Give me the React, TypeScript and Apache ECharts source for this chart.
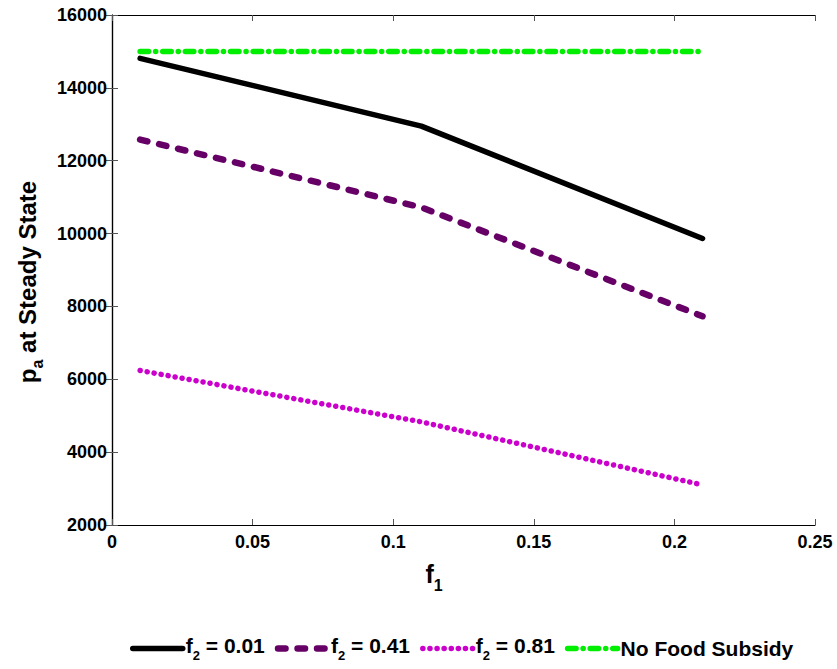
import React, { useEffect, useRef } from "react";
import * as echarts from "echarts";

const f1Values = [0.01, 0.11, 0.21];
const seriesF2_001 = [14810, 12950, 9865];
const seriesF2_041 = [12580, 10720, 7730];
const seriesF2_081 = [6240, 4830, 3100];
const seriesNoSubsidy = [15000, 15000, 15000];

const seriesNames = ["f2 = 0.01", "f2 = 0.41", "f2 = 0.81", "No Food Subsidy"];
const xTicks = { min: 0, max: 0.25, interval: 0.05 };
const yTicks = { min: 2000, max: 16000, interval: 2000 };

const FONT = "'Liberation Sans', Arial, Helvetica, sans-serif";

const styles = [
  { color: "#000000", width: 5.5, type: "solid" as any },
  { color: "#660066", width: 6.5, type: [7.5, 12] as any },
  { color: "#cc00cc", width: 5.5, type: [0.1, 7] as any },
  { color: "#00ee00", width: 5.5, type: [8.5, 7, 0.1, 7] as any },
];

function pairs(vals: number[]) {
  return f1Values.map((x, i) => [x, vals[i]]);
}

export default function App() {
  const ref = useRef<HTMLDivElement>(null);
  useEffect(() => {
    if (!ref.current) return;
    const chart = echarts.init(ref.current, null, { renderer: "svg" });
    const tickStyle = { show: true, inside: true, length: 6, lineStyle: { color: "#555", width: 1 } };
    const lineAxis = { show: true, lineStyle: { color: "#000", width: 1.2 } };
    const labelStyle = { color: "#000", fontFamily: FONT, fontWeight: "bold" as const, fontSize: 18 };
    const allData = [seriesF2_001, seriesF2_041, seriesF2_081, seriesNoSubsidy];
    chart.setOption({
      animation: false,
      backgroundColor: "#fff",
      grid: { left: 112, right: 22, top: 15, bottom: 144 },
      xAxis: [
        {
          type: "value",
          min: xTicks.min,
          max: xTicks.max,
          interval: xTicks.interval,
          axisLine: lineAxis,
          axisTick: tickStyle,
          splitLine: { show: false },
          axisLabel: { ...labelStyle, margin: 8, formatter: (v: number) => String(v) },
        },
        {
          type: "value",
          position: "top",
          min: xTicks.min,
          max: xTicks.max,
          interval: xTicks.interval,
          axisLine: lineAxis,
          axisTick: tickStyle,
          splitLine: { show: false },
          axisLabel: { show: false },
        },
      ],
      yAxis: [
        {
          type: "value",
          min: yTicks.min,
          max: yTicks.max,
          interval: yTicks.interval,
          axisLine: lineAxis,
          axisTick: tickStyle,
          splitLine: { show: false },
          axisLabel: { ...labelStyle, margin: 5, formatter: (v: number) => String(v) },
        },
        {
          type: "value",
          position: "right",
          min: yTicks.min,
          max: yTicks.max,
          interval: yTicks.interval,
          axisLine: lineAxis,
          axisTick: tickStyle,
          splitLine: { show: false },
          axisLabel: { show: false },
        },
      ],
      legend: {
        top: 630,
        left: 125,
        itemWidth: 50,
        itemHeight: 14,
        itemGap: 10,
        itemStyle: { opacity: 0 },
        data: seriesNames.map((n, i) => ({
          name: n,
          itemStyle: { opacity: 0 },
          lineStyle: { color: styles[i].color, width: styles[i].width, type: styles[i].type, cap: "round" },
        })),
        formatter: (name: string) =>
          name.startsWith("f2") ? `{t|f}{s|2}{t|${name.slice(2)}}` : `{t|${name}}`,
        textStyle: {
          color: "#000",
          fontFamily: FONT,
          fontWeight: "bold",
          fontSize: 21,
          padding: [0, 0, 0, -2],
          rich: {
            t: { fontFamily: FONT, fontWeight: "bold", fontSize: 21, lineHeight: 22, verticalAlign: "top", color: "#000" },
            s: { fontFamily: FONT, fontWeight: "bold", fontSize: 13, lineHeight: 27, verticalAlign: "bottom", color: "#000" },
          },
        },
      },
      graphic: [
        {
          type: "text",
          x: 30,
          y: 282,
          rotation: Math.PI / 2,
          style: {
            text: "{p|p}{s|a}{p| at Steady State}",
            align: "center",
            verticalAlign: "middle",
            fill: "#000",
            rich: {
              p: { fontFamily: FONT, fontWeight: "bold", fontSize: 24, lineHeight: 24, verticalAlign: "top", fill: "#000" },
              s: { fontFamily: FONT, fontWeight: "bold", fontSize: 16, lineHeight: 30, verticalAlign: "bottom", fill: "#000" },
            },
          },
        },
        {
          type: "text",
          x: 434,
          y: 577,
          style: {
            text: "{p|f}{s|1}",
            align: "center",
            verticalAlign: "middle",
            fill: "#000",
            rich: {
              p: { fontFamily: FONT, fontWeight: "bold", fontSize: 25, lineHeight: 25, verticalAlign: "top", fill: "#000" },
              s: { fontFamily: FONT, fontWeight: "bold", fontSize: 16, lineHeight: 32, verticalAlign: "bottom", fill: "#000" },
            },
          },
        },
      ],
      series: seriesNames.map((n, i) => ({
        name: n,
        type: "line",
        data: pairs(allData[i]),
        showSymbol: false,
        symbol: "none",
        lineStyle: { color: styles[i].color, width: styles[i].width, type: styles[i].type, cap: "round", join: "round" },
        itemStyle: { color: styles[i].color },
      })),
    });
    return () => chart.dispose();
  }, []);
  return <div ref={ref} style={{ width: 837, height: 669, position: "absolute", left: 0, top: 0 }} />;
}
